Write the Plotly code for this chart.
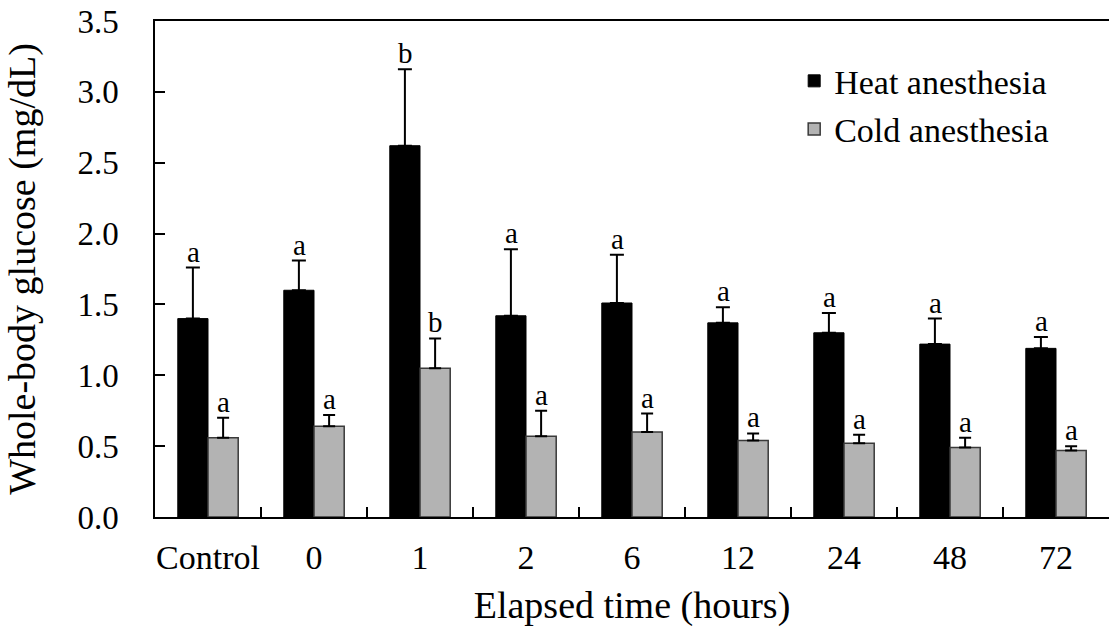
import plotly.graph_objects as go

categories = ["Control", "0", "1", "2", "6", "12", "24", "48", "72"]
heat_mean = [1.40, 1.60, 2.62, 1.42, 1.51, 1.37, 1.30, 1.22, 1.19]
heat_err = [0.36, 0.21, 0.54, 0.47, 0.34, 0.11, 0.14, 0.18, 0.08]
cold_mean = [0.56, 0.64, 1.05, 0.57, 0.60, 0.54, 0.52, 0.49, 0.47]
cold_err = [0.14, 0.08, 0.21, 0.18, 0.13, 0.05, 0.06, 0.07, 0.03]
heat_letters = ["a", "a", "b", "a", "a", "a", "a", "a", "a"]
cold_letters = ["a", "a", "b", "a", "a", "a", "a", "a", "a"]

FONT = "Liberation Serif, Times New Roman, serif"

fig = go.Figure()
fig.add_trace(go.Bar(
    name="Heat anesthesia", x=categories, y=heat_mean,
    marker=dict(color="#000000", line=dict(color="#000000", width=1)),
    error_y=dict(type="data", symmetric=False, array=heat_err,
                 arrayminus=[0] * len(heat_err), color="#000000",
                 thickness=2, width=7),
    legendgroup="h",
))
fig.add_trace(go.Bar(
    name="Cold anesthesia", x=categories, y=cold_mean,
    marker=dict(color="#b3b3b3", line=dict(color="#3a3a3a", width=1.5)),
    error_y=dict(type="data", symmetric=False, array=cold_err,
                 arrayminus=[0] * len(cold_err), color="#000000",
                 thickness=2, width=6),
    legendgroup="c",
))

for i, c in enumerate(categories):
    fig.add_annotation(x=i, y=heat_mean[i] + heat_err[i], text=heat_letters[i],
                       xref="x", yref="y", xshift=-15, yshift=-2, yanchor="bottom",
                       showarrow=False, font=dict(family=FONT, size=29, color="#000"))
    fig.add_annotation(x=i, y=cold_mean[i] + cold_err[i], text=cold_letters[i],
                       xref="x", yref="y", xshift=15, yshift=-2, yanchor="bottom",
                       showarrow=False, font=dict(family=FONT, size=29, color="#000"))

fig.update_layout(
    width=1109, height=632,
    margin=dict(l=155, r=0, t=21, b=115),
    paper_bgcolor="white", plot_bgcolor="white",
    barmode="group", bargap=0.43, bargroupgap=0,
    font=dict(family=FONT, color="#000"),
    showlegend=True,
    legend=dict(x=0.670, y=0.937, xanchor="left", yanchor="top",
                font=dict(family=FONT, size=34, color="#000"),
                bgcolor="rgba(0,0,0,0)", tracegroupgap=1,
                itemwidth=30),
    xaxis=dict(
        type="category", range=[-0.5, 8.5], automargin=False,
        showline=True, linecolor="#000", linewidth=1.5, mirror=True,
        ticks="inside", ticklen=10, tickcolor="#000", tickwidth=1.5,
        tickson="boundaries", showgrid=False, tickangle=0,
        tickfont=dict(family=FONT, size=34, color="#000"),
        ticklabelstandoff=9,
        title=dict(text="Elapsed time (hours)", font=dict(family=FONT, size=38, color="#000"),
                   standoff=17),
    ),
    yaxis=dict(
        range=[0, 3.5], dtick=0.5, tickformat=".1f", automargin=False,
        showline=True, linecolor="#000", linewidth=1.5, mirror=False,
        ticks="inside", ticklen=10, tickcolor="#000", tickwidth=1.5,
        showgrid=False, zeroline=False,
        tickfont=dict(family=FONT, size=33, color="#000"),
        ticklabelstandoff=28,
        title=dict(text="Whole-body glucose (mg/dL)", font=dict(family=FONT, size=38, color="#000"),
                   standoff=30),
    ),
)

fig.write_html("out.html", config={"displayModeBar": False},
               post_script="document.body.style.margin='0';")
